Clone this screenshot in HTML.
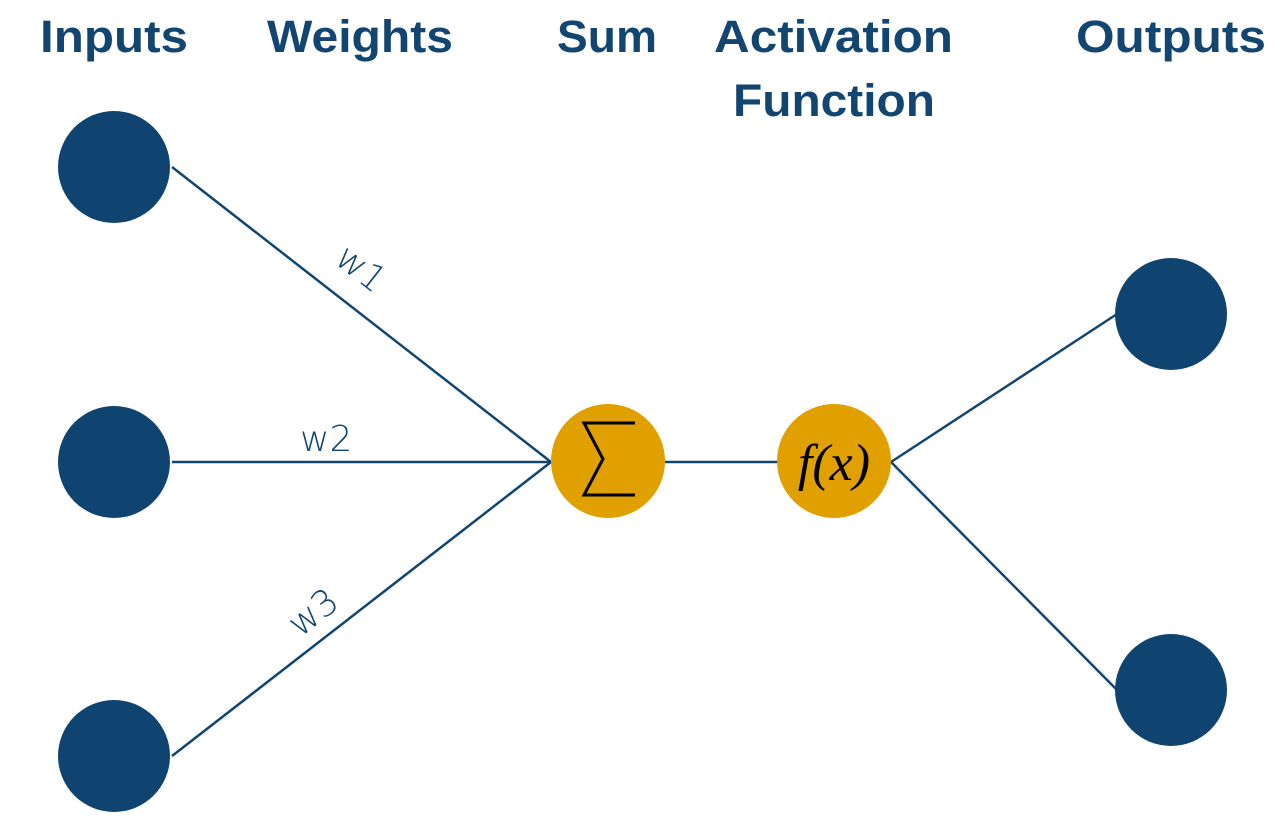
<!DOCTYPE html>
<html><head><meta charset="utf-8"><style>
html,body{margin:0;padding:0;background:#fff;}
svg{display:block;}
</style></head><body>
<svg width="1288" height="838" viewBox="0 0 1288 838" xmlns="http://www.w3.org/2000/svg">
<g font-family="Liberation Sans, sans-serif" font-weight="bold" font-size="45" fill="#124570">
<text x="40" y="52" textLength="148" lengthAdjust="spacingAndGlyphs">Inputs</text>
<text x="267" y="52" textLength="186" lengthAdjust="spacingAndGlyphs">Weights</text>
<text x="557" y="52" textLength="100" lengthAdjust="spacingAndGlyphs">Sum</text>
<text x="714" y="52" textLength="239" lengthAdjust="spacingAndGlyphs">Activation</text>
<text x="733" y="116" textLength="202" lengthAdjust="spacingAndGlyphs">Function</text>
<text x="1076" y="52" textLength="190" lengthAdjust="spacingAndGlyphs">Outputs</text>
</g>
<g stroke="#124570" stroke-width="2.5" fill="none">
<line x1="172" y1="167" x2="551" y2="462"/>
<line x1="172" y1="462" x2="551" y2="462"/>
<line x1="172" y1="756" x2="551" y2="462"/>
<line x1="665" y1="462" x2="778" y2="462"/>
<line x1="891" y1="462" x2="1117" y2="314"/>
<line x1="891" y1="462" x2="1117" y2="690"/>
</g>
<g fill="#0f4470">
<circle cx="114" cy="167" r="56"/>
<circle cx="114" cy="462" r="56"/>
<circle cx="114" cy="756" r="56"/>
<circle cx="1171" cy="314" r="56"/>
<circle cx="1171" cy="690" r="56"/>
</g>
<g fill="#e0a000">
<circle cx="608" cy="461" r="57"/>
<circle cx="834" cy="461" r="57"/>
</g>
<path d="M635 423 L584 423 L603 459 L584 495 L635 495" stroke="#000" stroke-width="3" fill="none"/>
<text x="834" y="480" text-anchor="middle" font-family="Liberation Serif, serif" font-style="italic" font-size="52" fill="#000">f(x)</text>
<g font-family="DejaVu Sans, sans-serif" font-weight="200" font-size="36" fill="#124570">
<text x="0" y="0" transform="translate(333,262) rotate(38)">w1</text>
<text x="300" y="451">w2</text>
<text x="0" y="0" transform="translate(300,638) rotate(-38)">w3</text>
</g>
</svg>
</body></html>
